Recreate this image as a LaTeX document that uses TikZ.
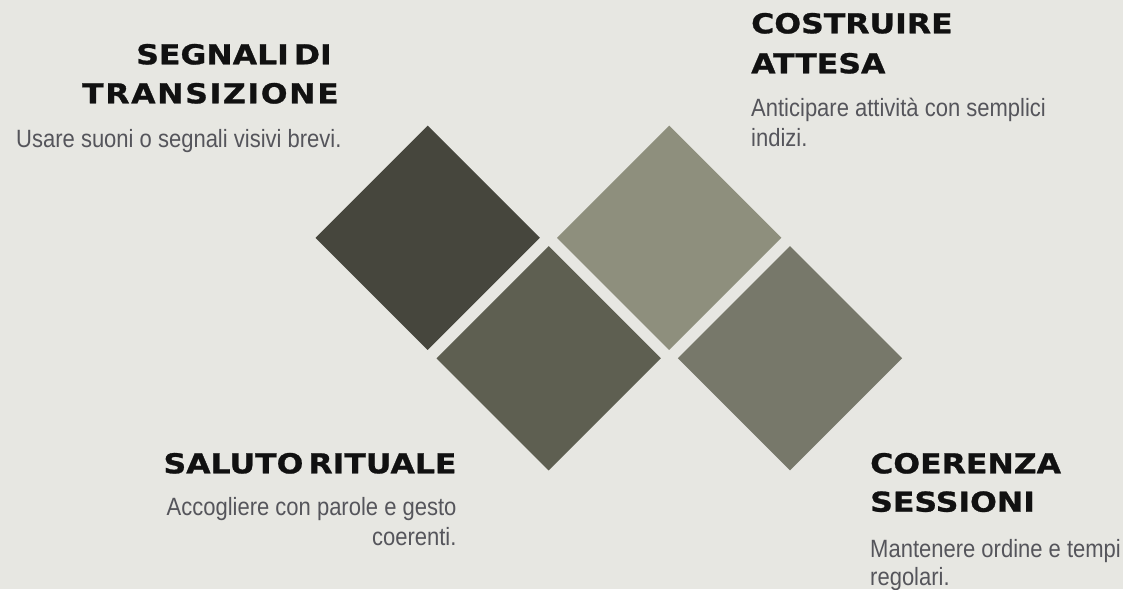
\documentclass[tikz,border=0pt]{standalone}
\usepackage{fontspec}
\usetikzlibrary{shapes.geometric}
\newfontfamily\titlefont[FakeStretch=1.15,FakeBold=1]{DejaVu Sans}
\newfontfamily\bodyfont[FakeStretch=0.88]{Liberation Sans}
\definecolor{bgc}{HTML}{E7E7E2}
\definecolor{dA}{HTML}{46463D}
\definecolor{dB}{HTML}{5E5F51}
\definecolor{dC}{HTML}{8E8F7D}
\definecolor{dD}{HTML}{77786A}
\definecolor{ttl}{HTML}{111111}
\definecolor{bod}{HTML}{55555B}
\tikzset{
  sq/.style={diamond, aspect=1, minimum width=224.5pt, minimum height=224.5pt, inner sep=0pt, draw=none},
  ttlfont/.style={inner sep=0pt, text=ttl, font=\titlefont\bfseries\fontsize{27.4}{39}\selectfont, execute at begin node={\spaceskip=5pt plus 0pt\relax}},
  ttlE/.style={ttlfont, anchor=base east},
  ttlW/.style={ttlfont, anchor=base west},
  bodE/.style={anchor=base east, inner sep=0pt, text=bod, font=\bodyfont\fontsize{25}{30}\selectfont},
  bodW/.style={anchor=base west, inner sep=0pt, text=bod, font=\bodyfont\fontsize{25}{30}\selectfont}
}
\begin{document}
\begin{tikzpicture}[x=1pt, y=-1pt]
\fill[bgc] (0,0) rectangle (1123,589);
\useasboundingbox (0,0) rectangle (1123,589);
% diamonds
\node[sq, fill=dA] (dmA) at (427.7,237.8) {};
\node[sq, fill=dB] (dmB) at (548.7,358.3) {};
\node[sq, fill=dC] (dmC) at (669.2,237.8) {};
\node[sq, fill=dD] (dmD) at (790.0,358.3) {};
% block 1
\node[ttlE] (t1a) at (332,64.3) {SEGNALI DI};
\node[ttlE] (t1b) at (339,103.3) {\addfontfeature{LetterSpace=6}TRANSIZIONE};
\node[bodE] (b1a) at (341.7,147.3) {Usare suoni o segnali visivi brevi.};
% block 2
\node[ttlW] (t2a) at (751,33.3) {COSTRUIRE};
\node[ttlW] (t2b) at (751,73.3) {ATTESA};
\node[bodW] (b2a) at (751,116) {Anticipare attività con semplici};
\node[bodW] (b2b) at (751,146.7) {indizi.};
% block 3
\node[ttlE] (t3a) at (456.7,473.3) {SALUTO RITUALE};
\node[bodE] (b3a) at (456.7,515) {Accogliere con parole e gesto};
\node[bodE] (b3b) at (456.7,545) {coerenti.};
% block 4
\node[ttlW] (t4a) at (870,473.3) {COERENZA};
\node[ttlW] (t4b) at (870,511.7) {SESSIONI};
\node[bodW] (b4a) at (870,557.7) {Mantenere ordine e tempi};
\node[bodW] (b4b) at (870,585) {regolari.};
\end{tikzpicture}
\end{document}
